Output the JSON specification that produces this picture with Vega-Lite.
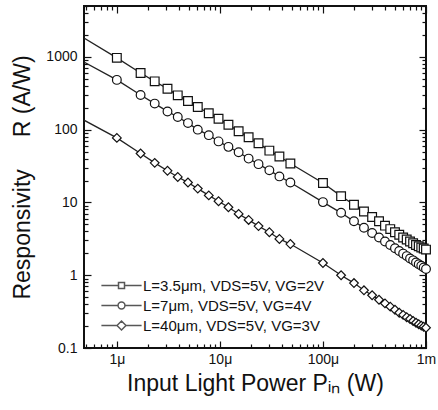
{
  "$schema": "https://vega.github.io/schema/vega-lite/v6.json",
  "width": 342,
  "height": 342,
  "autosize": "none",
  "padding": {"left": 84, "top": 6, "right": 12, "bottom": 62},
  "background": "white",
  "config": {
    "view": {"stroke": "#111", "strokeWidth": 2},
    "font": "Liberation Sans",
    "axis": {"domain": false, "grid": false, "tickColor": "#111", "tickWidth": 1.2, "labelColor": "#111", "titleColor": "#111", "labelFont": "Liberation Sans", "titleFont": "Liberation Sans", "labelFontSize": 14, "titleFontSize": 23, "titleFontWeight": "normal"}
  },
  "datasets": {
    "main": [
      {"series": "L=3.5μm, VDS=5V, VG=2V", "P": 4.8e-7, "R": 1820, "marker": false},
      {"series": "L=3.5μm, VDS=5V, VG=2V", "P": 1e-6, "R": 970, "marker": true},
      {"series": "L=3.5μm, VDS=5V, VG=2V", "P": 1.7e-6, "R": 600, "marker": true},
      {"series": "L=3.5μm, VDS=5V, VG=2V", "P": 2.33e-6, "R": 461, "marker": true},
      {"series": "L=3.5μm, VDS=5V, VG=2V", "P": 3.1e-6, "R": 365, "marker": true},
      {"series": "L=3.5μm, VDS=5V, VG=2V", "P": 3.9e-6, "R": 296, "marker": true},
      {"series": "L=3.5μm, VDS=5V, VG=2V", "P": 4.9e-6, "R": 247, "marker": true},
      {"series": "L=3.5μm, VDS=5V, VG=2V", "P": 6.1e-6, "R": 205, "marker": true},
      {"series": "L=3.5μm, VDS=5V, VG=2V", "P": 7.8e-6, "R": 168, "marker": true},
      {"series": "L=3.5μm, VDS=5V, VG=2V", "P": 9.7e-6, "R": 141, "marker": true},
      {"series": "L=3.5μm, VDS=5V, VG=2V", "P": 1.21e-5, "R": 117, "marker": true},
      {"series": "L=3.5μm, VDS=5V, VG=2V", "P": 1.52e-5, "R": 95, "marker": true},
      {"series": "L=3.5μm, VDS=5V, VG=2V", "P": 1.9e-5, "R": 78.5, "marker": true},
      {"series": "L=3.5μm, VDS=5V, VG=2V", "P": 2.37e-5, "R": 65, "marker": true},
      {"series": "L=3.5μm, VDS=5V, VG=2V", "P": 3.02e-5, "R": 51.5, "marker": true},
      {"series": "L=3.5μm, VDS=5V, VG=2V", "P": 3.78e-5, "R": 42.8, "marker": true},
      {"series": "L=3.5μm, VDS=5V, VG=2V", "P": 4.83e-5, "R": 34.3, "marker": true},
      {"series": "L=3.5μm, VDS=5V, VG=2V", "P": 1e-4, "R": 18.5, "marker": true},
      {"series": "L=3.5μm, VDS=5V, VG=2V", "P": 1.5e-4, "R": 12.2, "marker": true},
      {"series": "L=3.5μm, VDS=5V, VG=2V", "P": 2e-4, "R": 9.3, "marker": true},
      {"series": "L=3.5μm, VDS=5V, VG=2V", "P": 2.5e-4, "R": 7.5, "marker": true},
      {"series": "L=3.5μm, VDS=5V, VG=2V", "P": 3e-4, "R": 6.3, "marker": true},
      {"series": "L=3.5μm, VDS=5V, VG=2V", "P": 3.5e-4, "R": 5.5, "marker": true},
      {"series": "L=3.5μm, VDS=5V, VG=2V", "P": 4e-4, "R": 4.8, "marker": true},
      {"series": "L=3.5μm, VDS=5V, VG=2V", "P": 4.5e-4, "R": 4.3, "marker": true},
      {"series": "L=3.5μm, VDS=5V, VG=2V", "P": 5e-4, "R": 3.9, "marker": true},
      {"series": "L=3.5μm, VDS=5V, VG=2V", "P": 5.5e-4, "R": 3.6, "marker": true},
      {"series": "L=3.5μm, VDS=5V, VG=2V", "P": 6e-4, "R": 3.3, "marker": true},
      {"series": "L=3.5μm, VDS=5V, VG=2V", "P": 6.5e-4, "R": 3.1, "marker": true},
      {"series": "L=3.5μm, VDS=5V, VG=2V", "P": 7e-4, "R": 2.9, "marker": true},
      {"series": "L=3.5μm, VDS=5V, VG=2V", "P": 7.5e-4, "R": 2.75, "marker": true},
      {"series": "L=3.5μm, VDS=5V, VG=2V", "P": 8e-4, "R": 2.6, "marker": true},
      {"series": "L=3.5μm, VDS=5V, VG=2V", "P": 8.5e-4, "R": 2.5, "marker": true},
      {"series": "L=3.5μm, VDS=5V, VG=2V", "P": 9e-4, "R": 2.4, "marker": true},
      {"series": "L=3.5μm, VDS=5V, VG=2V", "P": 9.5e-4, "R": 2.33, "marker": true},
      {"series": "L=3.5μm, VDS=5V, VG=2V", "P": 1e-3, "R": 2.25, "marker": true},

      {"series": "L=7μm, VDS=5V, VG=4V", "P": 4.8e-7, "R": 850, "marker": false},
      {"series": "L=7μm, VDS=5V, VG=4V", "P": 1e-6, "R": 483, "marker": true},
      {"series": "L=7μm, VDS=5V, VG=4V", "P": 1.7e-6, "R": 300, "marker": true},
      {"series": "L=7μm, VDS=5V, VG=4V", "P": 2.33e-6, "R": 228, "marker": true},
      {"series": "L=7μm, VDS=5V, VG=4V", "P": 3.1e-6, "R": 178, "marker": true},
      {"series": "L=7μm, VDS=5V, VG=4V", "P": 3.9e-6, "R": 149, "marker": true},
      {"series": "L=7μm, VDS=5V, VG=4V", "P": 4.9e-6, "R": 123, "marker": true},
      {"series": "L=7μm, VDS=5V, VG=4V", "P": 6.1e-6, "R": 100, "marker": true},
      {"series": "L=7μm, VDS=5V, VG=4V", "P": 7.8e-6, "R": 84, "marker": true},
      {"series": "L=7μm, VDS=5V, VG=4V", "P": 9.7e-6, "R": 69, "marker": true},
      {"series": "L=7μm, VDS=5V, VG=4V", "P": 1.21e-5, "R": 58, "marker": true},
      {"series": "L=7μm, VDS=5V, VG=4V", "P": 1.52e-5, "R": 49, "marker": true},
      {"series": "L=7μm, VDS=5V, VG=4V", "P": 1.9e-5, "R": 40, "marker": true},
      {"series": "L=7μm, VDS=5V, VG=4V", "P": 2.37e-5, "R": 33.6, "marker": true},
      {"series": "L=7μm, VDS=5V, VG=4V", "P": 3.02e-5, "R": 27.6, "marker": true},
      {"series": "L=7μm, VDS=5V, VG=4V", "P": 3.78e-5, "R": 22.8, "marker": true},
      {"series": "L=7μm, VDS=5V, VG=4V", "P": 4.83e-5, "R": 18.8, "marker": true},
      {"series": "L=7μm, VDS=5V, VG=4V", "P": 1e-4, "R": 10.1, "marker": true},
      {"series": "L=7μm, VDS=5V, VG=4V", "P": 1.5e-4, "R": 7.2, "marker": true},
      {"series": "L=7μm, VDS=5V, VG=4V", "P": 2e-4, "R": 5.5, "marker": true},
      {"series": "L=7μm, VDS=5V, VG=4V", "P": 2.5e-4, "R": 4.5, "marker": true},
      {"series": "L=7μm, VDS=5V, VG=4V", "P": 3e-4, "R": 3.8, "marker": true},
      {"series": "L=7μm, VDS=5V, VG=4V", "P": 3.5e-4, "R": 3.3, "marker": true},
      {"series": "L=7μm, VDS=5V, VG=4V", "P": 4e-4, "R": 2.9, "marker": true},
      {"series": "L=7μm, VDS=5V, VG=4V", "P": 4.5e-4, "R": 2.6, "marker": true},
      {"series": "L=7μm, VDS=5V, VG=4V", "P": 5e-4, "R": 2.35, "marker": true},
      {"series": "L=7μm, VDS=5V, VG=4V", "P": 5.5e-4, "R": 2.15, "marker": true},
      {"series": "L=7μm, VDS=5V, VG=4V", "P": 6e-4, "R": 1.98, "marker": true},
      {"series": "L=7μm, VDS=5V, VG=4V", "P": 6.5e-4, "R": 1.83, "marker": true},
      {"series": "L=7μm, VDS=5V, VG=4V", "P": 7e-4, "R": 1.7, "marker": true},
      {"series": "L=7μm, VDS=5V, VG=4V", "P": 7.5e-4, "R": 1.6, "marker": true},
      {"series": "L=7μm, VDS=5V, VG=4V", "P": 8e-4, "R": 1.5, "marker": true},
      {"series": "L=7μm, VDS=5V, VG=4V", "P": 8.5e-4, "R": 1.42, "marker": true},
      {"series": "L=7μm, VDS=5V, VG=4V", "P": 9e-4, "R": 1.35, "marker": true},
      {"series": "L=7μm, VDS=5V, VG=4V", "P": 9.5e-4, "R": 1.28, "marker": true},
      {"series": "L=7μm, VDS=5V, VG=4V", "P": 1e-3, "R": 1.22, "marker": true},

      {"series": "L=40μm, VDS=5V, VG=3V", "P": 4.8e-7, "R": 135, "marker": false},
      {"series": "L=40μm, VDS=5V, VG=3V", "P": 1e-6, "R": 77, "marker": true},
      {"series": "L=40μm, VDS=5V, VG=3V", "P": 1.7e-6, "R": 47, "marker": true},
      {"series": "L=40μm, VDS=5V, VG=3V", "P": 2.33e-6, "R": 35, "marker": true},
      {"series": "L=40μm, VDS=5V, VG=3V", "P": 3.1e-6, "R": 27.2, "marker": true},
      {"series": "L=40μm, VDS=5V, VG=3V", "P": 3.9e-6, "R": 22.4, "marker": true},
      {"series": "L=40μm, VDS=5V, VG=3V", "P": 4.9e-6, "R": 18.8, "marker": true},
      {"series": "L=40μm, VDS=5V, VG=3V", "P": 6.1e-6, "R": 15.5, "marker": true},
      {"series": "L=40μm, VDS=5V, VG=3V", "P": 7.8e-6, "R": 12.5, "marker": true},
      {"series": "L=40μm, VDS=5V, VG=3V", "P": 9.7e-6, "R": 10.4, "marker": true},
      {"series": "L=40μm, VDS=5V, VG=3V", "P": 1.21e-5, "R": 8.6, "marker": true},
      {"series": "L=40μm, VDS=5V, VG=3V", "P": 1.52e-5, "R": 6.95, "marker": true},
      {"series": "L=40μm, VDS=5V, VG=3V", "P": 1.9e-5, "R": 5.75, "marker": true},
      {"series": "L=40μm, VDS=5V, VG=3V", "P": 2.37e-5, "R": 4.73, "marker": true},
      {"series": "L=40μm, VDS=5V, VG=3V", "P": 3.02e-5, "R": 3.9, "marker": true},
      {"series": "L=40μm, VDS=5V, VG=3V", "P": 3.78e-5, "R": 3.15, "marker": true},
      {"series": "L=40μm, VDS=5V, VG=3V", "P": 4.83e-5, "R": 2.68, "marker": true},
      {"series": "L=40μm, VDS=5V, VG=3V", "P": 1e-4, "R": 1.47, "marker": true},
      {"series": "L=40μm, VDS=5V, VG=3V", "P": 1.5e-4, "R": 1.0, "marker": true},
      {"series": "L=40μm, VDS=5V, VG=3V", "P": 2e-4, "R": 0.78, "marker": true},
      {"series": "L=40μm, VDS=5V, VG=3V", "P": 2.5e-4, "R": 0.62, "marker": true},
      {"series": "L=40μm, VDS=5V, VG=3V", "P": 3e-4, "R": 0.53, "marker": true},
      {"series": "L=40μm, VDS=5V, VG=3V", "P": 3.5e-4, "R": 0.46, "marker": true},
      {"series": "L=40μm, VDS=5V, VG=3V", "P": 4e-4, "R": 0.41, "marker": true},
      {"series": "L=40μm, VDS=5V, VG=3V", "P": 4.5e-4, "R": 0.37, "marker": true},
      {"series": "L=40μm, VDS=5V, VG=3V", "P": 5e-4, "R": 0.335, "marker": true},
      {"series": "L=40μm, VDS=5V, VG=3V", "P": 5.5e-4, "R": 0.305, "marker": true},
      {"series": "L=40μm, VDS=5V, VG=3V", "P": 6e-4, "R": 0.285, "marker": true},
      {"series": "L=40μm, VDS=5V, VG=3V", "P": 6.5e-4, "R": 0.265, "marker": true},
      {"series": "L=40μm, VDS=5V, VG=3V", "P": 7e-4, "R": 0.25, "marker": true},
      {"series": "L=40μm, VDS=5V, VG=3V", "P": 7.5e-4, "R": 0.235, "marker": true},
      {"series": "L=40μm, VDS=5V, VG=3V", "P": 8e-4, "R": 0.222, "marker": true},
      {"series": "L=40μm, VDS=5V, VG=3V", "P": 8.5e-4, "R": 0.212, "marker": true},
      {"series": "L=40μm, VDS=5V, VG=3V", "P": 9e-4, "R": 0.203, "marker": true},
      {"series": "L=40μm, VDS=5V, VG=3V", "P": 9.5e-4, "R": 0.196, "marker": true},
      {"series": "L=40μm, VDS=5V, VG=3V", "P": 1e-3, "R": 0.19, "marker": true}
    ]
  },
  "data": {"name": "main"},
  "resolve": {"axis": {"x": "independent", "y": "independent"}, "scale": {"shape": "independent"}},
  "layer": [
    {
      "mark": {"type": "line", "color": "#222", "strokeWidth": 1.3, "clip": true},
      "encoding": {
        "x": {"field": "P", "type": "quantitative", "scale": {"type": "log", "domain": [4.8e-7, 1e-3]},
          "axis": {"orient": "bottom", "values": [1e-6, 1e-5, 1e-4, 1e-3], "tickSize": -7, "labelPadding": 11, "labelExpr": "datum.value < 5e-6 ? '1μ' : datum.value < 5e-5 ? '10μ' : datum.value < 5e-4 ? '100μ' : '1m'", "labelFlush": false, "title": "Input Light Power Pᵢₙ (W)", "titlePadding": 6}},
        "y": {"field": "R", "type": "quantitative", "scale": {"type": "log", "domain": [0.1, 5000]},
          "axis": {"orient": "left", "values": [0.1, 1, 10, 100, 1000], "tickSize": -7, "labelPadding": 14, "labelExpr": "format(datum.value, '~g')", "labelFlush": false, "title": "Responsivity\u00a0\u00a0\u00a0\u00a0\u00a0R (A/W)", "titlePadding": 11}},
        "detail": {"field": "series"},
        "order": {"field": "P", "type": "quantitative"}
      }
    },
    {
      "transform": [{"filter": "datum.marker"}],
      "mark": {"type": "point", "filled": true, "fill": "white", "stroke": "#111", "strokeWidth": 1.2, "size": 76, "opacity": 1},
      "encoding": {
        "x": {"field": "P", "type": "quantitative", "scale": {"type": "log", "domain": [4.8e-7, 1e-3]},
          "axis": {"orient": "bottom", "values": [5e-7, 6e-7, 7e-7, 8e-7, 9e-7, 2e-6, 3e-6, 4e-6, 5e-6, 6e-6, 7e-6, 8e-6, 9e-6, 2e-5, 3e-5, 4e-5, 5e-5, 6e-5, 7e-5, 8e-5, 9e-5, 2e-4, 3e-4, 4e-4, 5e-4, 6e-4, 7e-4, 8e-4, 9e-4], "tickSize": -4, "labels": false, "title": null}},
        "y": {"field": "R", "type": "quantitative", "scale": {"type": "log", "domain": [0.1, 5000]},
          "axis": {"orient": "left", "values": [0.2, 0.3, 0.4, 0.5, 0.6, 0.7, 0.8, 0.9, 2, 3, 4, 5, 6, 7, 8, 9, 20, 30, 40, 50, 60, 70, 80, 90, 200, 300, 400, 500, 600, 700, 800, 900, 2000, 3000, 4000, 5000], "tickSize": -4, "labels": false, "title": null}},
        "shape": {"field": "series", "type": "nominal",
          "scale": {"domain": ["L=3.5μm, VDS=5V, VG=2V", "L=7μm, VDS=5V, VG=4V", "L=40μm, VDS=5V, VG=3V"], "range": ["square", "circle", "diamond"]},
          "legend": null}
      }
    },
    {
      "transform": [{"filter": "false"}],
      "mark": {"type": "point", "filled": true, "fill": "white", "stroke": "#111", "strokeWidth": 1.2},
      "encoding": {
        "x": {"field": "P", "type": "quantitative", "scale": {"type": "log", "domain": [4.8e-7, 1e-3]}, "axis": null},
        "y": {"field": "R", "type": "quantitative", "scale": {"type": "log", "domain": [0.1, 5000]}, "axis": null},
        "shape": {"field": "series", "type": "nominal",
          "scale": {"domain": ["L=3.5μm, VDS=5V, VG=2V", "L=7μm, VDS=5V, VG=4V", "L=40μm, VDS=5V, VG=3V"],
            "range": ["M-6.7,0H-1M-1,-1H1V1H-1ZM1,0H6.7", "M-6.7,0H-1.15M-1.15,0A1.15,1.15,0,1,1,1.15,0A1.15,1.15,0,1,1,-1.15,0ZM1.15,0H6.7", "M-6.7,0H-1.5M-1.5,0L0,-1.5L1.5,0L0,1.5ZM1.5,0H6.7"]},
          "legend": {"orient": "none", "legendX": 30, "legendY": 272, "title": null, "symbolSize": 36, "labelFont": "Liberation Sans", "labelFontSize": 15, "labelColor": "#111", "labelOffset": 14, "rowPadding": 4, "labelLimit": 300,
            "encode": {"symbols": {"update": {
              "fill": {"value": "white"},
              "stroke": {"value": "#111"},
              "strokeWidth": {"value": 1.2},
              "opacity": {"value": 1}}}}}
        }
      }
    },
    {
      "mark": {"type": "line", "strokeOpacity": 0},
      "encoding": {
        "x": {"field": "P", "type": "quantitative", "scale": {"type": "log", "domain": [4.8e-7, 1e-3]},
          "axis": {"orient": "top", "values": [1e-6, 1e-5, 1e-4, 1e-3], "tickSize": -7, "labels": false, "title": null}},
        "y": {"field": "R", "type": "quantitative", "scale": {"type": "log", "domain": [0.1, 5000]},
          "axis": {"orient": "right", "values": [0.1, 1, 10, 100, 1000], "tickSize": -7, "labels": false, "title": null}},
        "detail": {"field": "series"}
      }
    },
    {
      "mark": {"type": "line", "strokeOpacity": 0},
      "encoding": {
        "x": {"field": "P", "type": "quantitative", "scale": {"type": "log", "domain": [4.8e-7, 1e-3]},
          "axis": {"orient": "top", "values": [5e-7, 6e-7, 7e-7, 8e-7, 9e-7, 2e-6, 3e-6, 4e-6, 5e-6, 6e-6, 7e-6, 8e-6, 9e-6, 2e-5, 3e-5, 4e-5, 5e-5, 6e-5, 7e-5, 8e-5, 9e-5, 2e-4, 3e-4, 4e-4, 5e-4, 6e-4, 7e-4, 8e-4, 9e-4], "tickSize": -4, "labels": false, "title": null}},
        "y": {"field": "R", "type": "quantitative", "scale": {"type": "log", "domain": [0.1, 5000]},
          "axis": {"orient": "right", "values": [0.2, 0.3, 0.4, 0.5, 0.6, 0.7, 0.8, 0.9, 2, 3, 4, 5, 6, 7, 8, 9, 20, 30, 40, 50, 60, 70, 80, 90, 200, 300, 400, 500, 600, 700, 800, 900, 2000, 3000, 4000, 5000], "tickSize": -4, "labels": false, "title": null}},
        "detail": {"field": "series"}
      }
    }
  ]
}
